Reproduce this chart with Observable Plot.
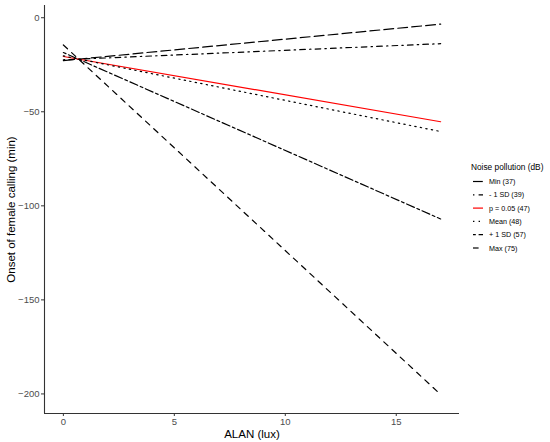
<!DOCTYPE html>
<html>
<head>
<meta charset="utf-8">
<script src="https://cdn.jsdelivr.net/npm/d3@7"></script>
<script src="https://cdn.jsdelivr.net/npm/@observablehq/plot@0.6"></script>
<style>
  body { margin: 0; background: #fff; font-family: "Liberation Sans", Arial, sans-serif; }
  #wrap { position: relative; width: 550px; height: 442px; }
  #legend { position: absolute; left: 469px; top: 158px; }
</style>
</head>
<body>
<div id="wrap">
  <div id="chart"></div>
  <div id="legend"></div>
</div>
<script>
// series of the noise pollution levels
const series = ["Min (37)", "- 1 SD (39)", "p = 0.05 (47)", "Mean (48)", "+ 1 SD (57)", "Max (75)"];
const alan = [0, 17];
const onsetStart = [-22.8, -22.35, -20.6, -20.3, -18.5, -14.5];
const onsetEnd = [-3.4, -13.8, -55.3, -60.5, -107, -200.3];
const colors = ["black", "black", "#ff0000", "black", "black", "black"];
const dashes = ["9.8,4.2", "1.4,4.2,5.6,4.2", null, "1.4,4.2", "2.8,2.8,8.4,2.8", "5.6,5.6"];
const xTicks = [0, 5, 10, 15];
const yTicks = [0, -50, -100, -150, -200];

const rows = series.flatMap((s, i) => [
  {serie: s, alan: alan[0], onset: onsetStart[i]},
  {serie: s, alan: alan[1], onset: onsetEnd[i]}
]);

const xMin = -0.85, xMax = 17.85;
const yMin = -210.4, yMax = 6.5;

const chart = Plot.plot({
  width: 550,
  height: 442,
  marginLeft: 44,
  marginRight: 91,
  marginTop: 5,
  marginBottom: 29,
  style: {fontFamily: "Liberation Sans, Arial, sans-serif", background: "white"},
  x: {domain: [xMin, xMax], ticks: xTicks},
  y: {domain: [yMin, yMax], ticks: yTicks},
  marks: [
    Plot.axisX({ticks: xTicks, tickSize: 3, tickPadding: 2, fontSize: 9.5, color: "#4d4d4d", stroke: "#333", label: null}),
    Plot.axisX({ticks: [], label: "ALAN (lux)", labelAnchor: "center", labelArrow: "none", labelOffset: 24, fontSize: 11.5, color: "black"}),
    Plot.axisY({ticks: yTicks, tickSize: 3, tickPadding: 2, fontSize: 9.5, color: "#4d4d4d", stroke: "#333", label: null}),
    Plot.axisY({ticks: [], label: "Onset of female calling (min)", labelAnchor: "center", labelArrow: "none", labelOffset: 38, fontSize: 11.5, color: "black"}),
    Plot.ruleX([xMin], {stroke: "#333", strokeWidth: 1.1}),
    Plot.ruleY([yMin], {stroke: "#333", strokeWidth: 1.1}),
    ...series.map((s, i) => Plot.line(rows.filter(d => d.serie === s), {
      x: "alan", y: "onset", stroke: colors[i], strokeWidth: 1.2,
      strokeDasharray: dashes[i]
    }))
  ]
});
d3.select("#chart").append(() => chart);

// legend
const leg = d3.select("#legend").append("svg").attr("width", 81).attr("height", 100)
  .style("font-family", "Liberation Sans, Arial, sans-serif");
leg.append("text").attr("x", 2).attr("y", 12).attr("font-size", 8.3).text("Noise pollution (dB)");
series.forEach((s, i) => {
  const y = 23.5 + i * 13.3;
  leg.append("line").attr("x1", 4).attr("x2", 14).attr("y1", y).attr("y2", y)
    .attr("stroke", colors[i]).attr("stroke-width", 1.2)
    .attr("stroke-dasharray", dashes[i]);
  leg.append("text").attr("x", 20).attr("y", y + 2.5).attr("font-size", 7.2).text(s);
});
</script>
</body>
</html>
